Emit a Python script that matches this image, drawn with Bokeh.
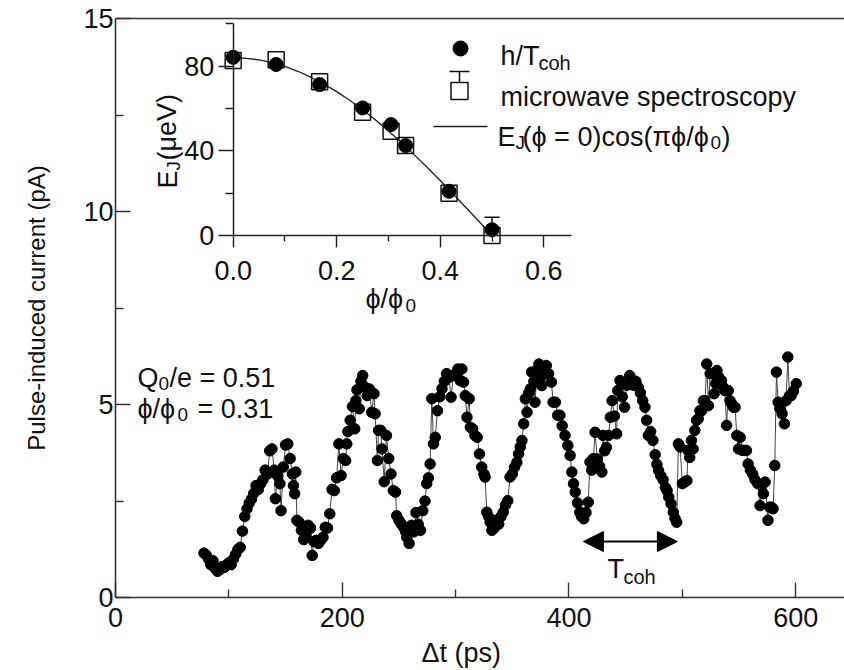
from bokeh.plotting import figure
from bokeh.models import (Range1d, LinearAxis, FixedTicker, PrintfTickFormatter,
                          Label, Arrow, NormalHead, Title)
from bokeh.embed import file_html
from bokeh.resources import INLINE

# ---------------- data ----------------
t_ps = [78, 80, 82, 84, 86, 88, 90, 92, 94, 96, 98, 100, 102, 104, 106, 108, 110, 112, 114, 116,
        118, 120, 122, 124, 126, 128, 130, 132, 134, 136, 138, 140, 141, 143, 145, 146, 148, 150, 152, 154,
        156, 157, 158, 159, 160, 162, 164, 166, 168, 170, 172, 173.5, 175, 177, 179, 181, 183, 185, 187, 189,
        191, 193, 195, 197, 199, 201, 203, 204, 205, 207, 209, 211, 212, 213, 215, 216.5, 218, 220, 222, 224,
        226, 228, 229, 231, 232, 234, 235, 237, 239, 241, 243, 245, 247, 248, 250, 252, 254, 256, 257, 259,
        261, 263, 265, 267, 269, 271, 273, 274.5, 276, 277.5, 279, 280.5, 282, 284, 286, 288, 290, 292, 294, 296,
        298, 300, 302, 304, 305.5, 307, 308.5, 310, 312, 313, 315, 317, 319, 321, 323, 325, 326, 327.5, 329, 330.5,
        332, 334, 336, 338, 340, 342, 344, 346, 348, 350, 352, 354, 355.5, 357, 358.5, 360, 361.5, 363, 364.5, 366,
        367, 369, 370, 372, 373.5, 375, 376, 378, 380, 382, 384.5, 386, 388, 390, 392, 394, 396.5, 399, 401, 402.5,
        404, 405.5, 407.5, 409.5, 411, 413, 415, 417, 418.5, 420, 421.5, 423, 425, 427, 429, 430, 431.5, 433, 435, 436.5,
        438, 440, 442, 443, 445, 447, 449, 451, 453.5, 455, 457, 459, 461, 463, 465, 467, 468.5, 470, 472, 474,
        476, 477.5, 479, 481, 483, 485, 486.5, 488, 490, 492, 493.5, 495, 496.5, 498, 500, 502, 504, 505, 506.5, 508,
        509.5, 511, 512.5, 514, 515.5, 517, 518.5, 520, 521.5, 523, 524.5, 526, 528, 529.5, 530.5, 532, 534.5, 536, 537.5, 539,
        540.5, 542, 543.5, 545, 546.5, 548, 549.5, 551, 553, 555, 556.5, 558, 560, 562, 564, 566.5, 568.5, 570, 571.5, 573,
        575.5, 577, 578.5, 580, 581.5, 583, 584.5, 586, 588, 590, 591.5, 593, 594.5, 596, 598, 600.5]
current_pA = [1.15, 1.10, 1.00, 0.85, 0.95, 0.75, 0.68, 0.72, 0.80, 0.78, 0.85, 0.90, 0.85, 1.00, 1.12, 1.25, 1.30, 1.72, 2.10, 2.30,
              2.45, 2.55, 2.70, 2.90, 2.80, 2.95, 3.05, 3.30, 3.20, 3.80, 3.85, 3.30, 2.56, 3.15, 2.95, 2.25, 3.38, 3.95, 3.98, 3.60,
              3.20, 2.90, 2.69, 3.25, 2.00, 1.95, 1.74, 1.50, 1.60, 1.87, 1.80, 1.09, 1.45, 1.48, 1.40, 1.48, 1.56, 1.82, 1.80, 2.17,
              2.80, 2.77, 3.10, 3.98, 3.16, 3.60, 3.55, 3.98, 4.30, 4.59, 4.95, 4.37, 5.10, 5.38, 4.89, 5.60, 5.75, 5.45, 5.23, 5.40,
              4.80, 5.28, 4.76, 3.55, 4.33, 4.33, 3.85, 3.00, 4.20, 3.60, 3.20, 2.77, 2.73, 2.12, 2.00, 1.91, 1.82, 1.70, 1.56, 1.40,
              1.87, 1.70, 2.20, 1.90, 1.74, 2.25, 2.50, 2.95, 3.10, 3.46, 5.15, 3.98, 4.15, 4.84, 5.20, 5.41, 5.60, 5.80, 5.70, 5.19,
              5.75, 5.80, 5.92, 5.62, 5.92, 5.58, 5.23, 4.67, 5.15, 4.41, 4.37, 4.20, 4.15, 3.72, 3.38, 3.20, 3.12, 2.21, 2.10, 1.95,
              1.74, 1.80, 2.00, 1.90, 2.10, 2.21, 2.40, 2.51, 3.12, 3.20, 3.38, 3.50, 3.72, 3.90, 4.07, 4.50, 5.15, 4.80, 5.30, 5.41,
              5.84, 5.60, 5.06, 5.90, 6.05, 5.70, 5.49, 5.95, 6.01, 5.80, 5.58, 5.06, 5.06, 4.72, 4.72, 4.45, 4.20, 3.94, 3.68, 3.25,
              2.95, 2.73, 2.45, 2.21, 2.10, 2.04, 2.20, 2.47, 3.51, 3.30, 3.60, 4.28, 3.59, 3.40, 3.25, 4.20, 3.80, 3.89, 4.20, 4.67,
              5.10, 4.70, 4.24, 5.36, 5.62, 5.20, 4.93, 5.50, 5.75, 5.65, 5.50, 5.60, 5.45, 5.30, 5.10, 4.93, 4.59, 4.20, 4.30, 4.07,
              3.70, 3.45, 3.29, 3.15, 3.05, 2.85, 2.77, 2.60, 2.43, 2.21, 2.05, 1.95, 3.98, 3.90, 2.95, 2.99, 3.03, 3.81, 3.63, 4.07,
              3.85, 4.33, 4.59, 4.63, 4.84, 4.84, 5.10, 5.10, 6.05, 4.97, 5.80, 5.80, 5.28, 5.54, 5.88, 5.71, 5.62, 5.45, 5.36, 4.46,
              5.36, 5.10, 5.02, 4.93, 4.93, 4.20, 3.85, 4.15, 3.81, 3.81, 3.81, 3.46, 3.30, 3.20, 3.05, 2.95, 2.38, 2.90, 2.69, 2.99,
              2.00, 2.34, 2.34, 2.30, 3.42, 5.84, 5.06, 4.90, 4.76, 4.50, 5.10, 6.23, 5.23, 5.23, 5.35, 5.54]

phi_coh = [0.0, 0.083, 0.167, 0.25, 0.305, 0.333, 0.417, 0.5]
ej_coh = [84.2, 80.8, 71.3, 60.3, 52.4, 42.5, 20.9, 2.7]
phi_mw = [0.0, 0.083, 0.167, 0.25, 0.305, 0.333, 0.417, 0.5]
ej_mw = [82.7, 83.0, 72.7, 58.2, 49.3, 42.5, 20.0, 0.0]
ej_mw_err = [0.0, 0.0, 0.0, 0.0, 0.0, 0.0, 0.0, 8.6]
phi_fit = [0.0, 0.025, 0.05, 0.075, 0.1, 0.125, 0.15, 0.175, 0.2, 0.225, 0.25,
           0.275, 0.3, 0.325, 0.35, 0.375, 0.4, 0.425, 0.45, 0.475, 0.5]
ej_fit = [84.0, 83.7, 83.0, 81.7, 79.9, 77.6, 74.8, 71.6, 68.0, 63.9, 59.4,
          54.6, 49.4, 43.9, 38.1, 32.1, 26.0, 19.6, 13.1, 6.6, 0.0]

x_ticks = [0, 200, 400, 600]
x_minor = [100, 300, 500]
y_ticks = [0, 5, 10, 15]
y_minor = [2.5, 7.5, 12.5]
inset_x_ticks = [0.0, 0.2, 0.4, 0.6]
inset_x_minor = [0.1, 0.3, 0.5]
inset_y_ticks = [0, 40, 80]
inset_y_minor = [20, 60, 100]
tcoh_start, tcoh_end = 412.7, 495.6

# ---------------- layout ----------------
FONT = "Liberation Sans"
INK = "#111111"
AX = "#333333"

FW, FH = 729, 579
XMAX = 643.0

p = figure(frame_width=FW, frame_height=FH, x_range=Range1d(0, XMAX), y_range=Range1d(0, 15),
           output_backend="svg", toolbar_location=None,
           min_border_left=115, min_border_right=0, min_border_top=18, min_border_bottom=73,
           outline_line_color=None, background_fill_color="white", border_fill_color="white")
p.grid.visible = False

xa = p.xaxis[0]
ya = p.yaxis[0]
xa.ticker = FixedTicker(ticks=x_ticks, minor_ticks=x_minor)
ya.ticker = FixedTicker(ticks=y_ticks, minor_ticks=y_minor)
for ax in (xa, ya):
    ax.axis_line_color = AX
    ax.axis_line_width = 1.6
    ax.major_tick_in = 15
    ax.major_tick_out = 0
    ax.minor_tick_in = 8
    ax.minor_tick_out = 0
    ax.major_tick_line_color = AX
    ax.minor_tick_line_color = AX
    ax.major_tick_line_width = 1.4
    ax.minor_tick_line_width = 1.4
    ax.major_label_text_font = FONT
    ax.major_label_text_font_size = "27px"
    ax.major_label_text_color = INK
xa.major_label_standoff = 10
ya.major_label_standoff = 2
ya.axis_label = "Pulse-induced current (pA)"
ya.axis_label_text_font = FONT
ya.axis_label_text_font_size = "24px"
ya.axis_label_text_font_style = "normal"
ya.axis_label_text_color = INK
ya.axis_label_standoff = 30

top = LinearAxis(ticker=FixedTicker(ticks=[], minor_ticks=[]), major_label_text_font_size="0px",
                 major_tick_in=0, major_tick_out=0, minor_tick_in=0, minor_tick_out=0,
                 major_label_standoff=0, axis_line_color=AX, axis_line_width=1.6)
p.add_layout(top, "above")

xtitle = Title(text="\u0394t (ps)", align="left", offset=306, text_font=FONT, text_font_size="27px",
               text_font_style="normal", text_color=INK, standoff=12)
p.add_layout(xtitle, "below")

# inset coordinate system
p.extra_x_ranges = {"ix": Range1d(-0.2273, -0.2273 + FW / 517.7)}
p.extra_y_ranges = {"iy": Range1d(-171.05, 102.54)}

ixax = LinearAxis(x_range_name="ix", y_range_name="iy", fixed_location=0, bounds=(0, 0.653),
                  ticker=FixedTicker(ticks=inset_x_ticks, minor_ticks=inset_x_minor),
                  formatter=PrintfTickFormatter(format="%.1f"))
iyax = LinearAxis(x_range_name="ix", y_range_name="iy", fixed_location=0, bounds=(0, 100),
                  ticker=FixedTicker(ticks=inset_y_ticks, minor_ticks=inset_y_minor))
for ax, mj, mn, so in ((ixax, 12, 6, 13), (iyax, 15, 8, 4)):
    ax.axis_line_color = "#222222"
    ax.axis_line_width = 1.5
    ax.major_tick_in = 0
    ax.minor_tick_in = 0
    ax.major_tick_out = mj
    ax.minor_tick_out = mn
    ax.major_tick_line_color = "#222222"
    ax.minor_tick_line_color = "#222222"
    ax.major_tick_line_width = 1.4
    ax.minor_tick_line_width = 1.4
    ax.major_label_text_font = FONT
    ax.major_label_text_font_size = "27px"
    ax.major_label_text_color = INK
    ax.major_label_standoff = so
p.add_layout(ixax, "below")
p.add_layout(iyax, "left")

# ---------------- main data ----------------
p.line(t_ps, current_pA, line_color="#444444", line_width=1.0)
p.scatter(t_ps, current_pA, marker="circle", size=10.5, fill_color="black", line_color="black")

# ---------------- inset data ----------------
p.line(phi_fit, ej_fit, x_range_name="ix", y_range_name="iy", line_color="#222222", line_width=1.3)
eb_x = [f for f, e in zip(phi_mw, ej_mw_err) if e > 0]
eb_y0 = [y for y, e in zip(ej_mw, ej_mw_err) if e > 0]
eb_y1 = [y + e for y, e in zip(ej_mw, ej_mw_err) if e > 0]
p.segment(x0=eb_x, y0=eb_y0, x1=eb_x, y1=eb_y1, x_range_name="ix", y_range_name="iy",
          line_color="#111111", line_width=1.5)
p.scatter(eb_x, eb_y1, marker="dash", size=15, line_color="#111111", line_width=1.5,
          x_range_name="ix", y_range_name="iy")
p.scatter(phi_mw, ej_mw, marker="square", size=16, fill_color=None, line_color="#111111",
          line_width=1.5, x_range_name="ix", y_range_name="iy")
p.scatter(phi_coh, ej_coh, marker="circle", size=14, fill_color="black", line_color="black",
          x_range_name="ix", y_range_name="iy")

# ---------------- texts & legend (positions in screen pixels) ----------------
PX0, PY0 = 115.0, 597.0
SX = FW / XMAX
SY = FH / 15.0


def X(px):
    return (px - PX0) / SX


def Y(py):
    return (PY0 - py) / SY


def txt(s, px, py, size, angle=0.0, align="left", baseline="alphabetic"):
    p.add_layout(Label(x=X(px), y=Y(py), text=s, text_font=FONT, text_font_size=f"{size}px",
                       text_color=INK, angle=angle, text_align=align, text_baseline=baseline))


# legend symbols
p.scatter([X(460)], [Y(48)], marker="circle", size=15, fill_color="black", line_color="black")
p.scatter([X(459)], [Y(90.5)], marker="square", size=17, fill_color=None, line_color="#111111", line_width=1.5)
p.segment(x0=[X(459)], y0=[Y(82)], x1=[X(459)], y1=[Y(71)], line_color="#111111", line_width=1.5)
p.scatter([X(459)], [Y(71)], marker="dash", size=20, line_color="#111111", line_width=1.5)
p.line([X(433), X(487)], [Y(126), Y(126)], line_color="#222222", line_width=1.3)

# legend texts
txt("h/T", 500, 55, 27)
txt("coh", 538, 62, 20)
txt("microwave spectroscopy", 500, 96, 27)
txt("E", 497, 136, 27)
txt("J", 515, 142, 19)
txt("(\u03d5 = 0)cos(\u03c0\u03d5/\u03d5", 522, 136, 27)
txt("0", 710, 142, 19)
txt(")", 721, 136, 27)

# inset axis titles
txt("E", 167, 188, 27, angle=1.5708)
txt("J", 173, 170, 19, angle=1.5708)
txt("(\u03bceV)", 167, 160, 27, angle=1.5708)
txt("\u03d5/\u03d5", 365, 298, 27)
txt("0", 405, 305, 19)

# parameters
txt("Q", 137, 377, 27)
txt("0", 158, 383, 19)
txt("/e = 0.51", 169, 377, 27)
txt("\u03d5/\u03d5", 137, 408, 27)
txt("0", 177, 414, 19)
txt("= 0.31", 197, 408, 27)

# T_coh arrow
p.add_layout(Arrow(start=NormalHead(size=20, fill_color="black", line_color="black"),
                   end=NormalHead(size=20, fill_color="black", line_color="black"),
                   x_start=tcoh_start, y_start=Y(541), x_end=tcoh_end, y_end=Y(541),
                   line_width=2, line_color="black"))
txt("T", 607, 568, 27)
txt("coh", 623, 576, 20)

open("out.html", "w").write(file_html(p, INLINE))
